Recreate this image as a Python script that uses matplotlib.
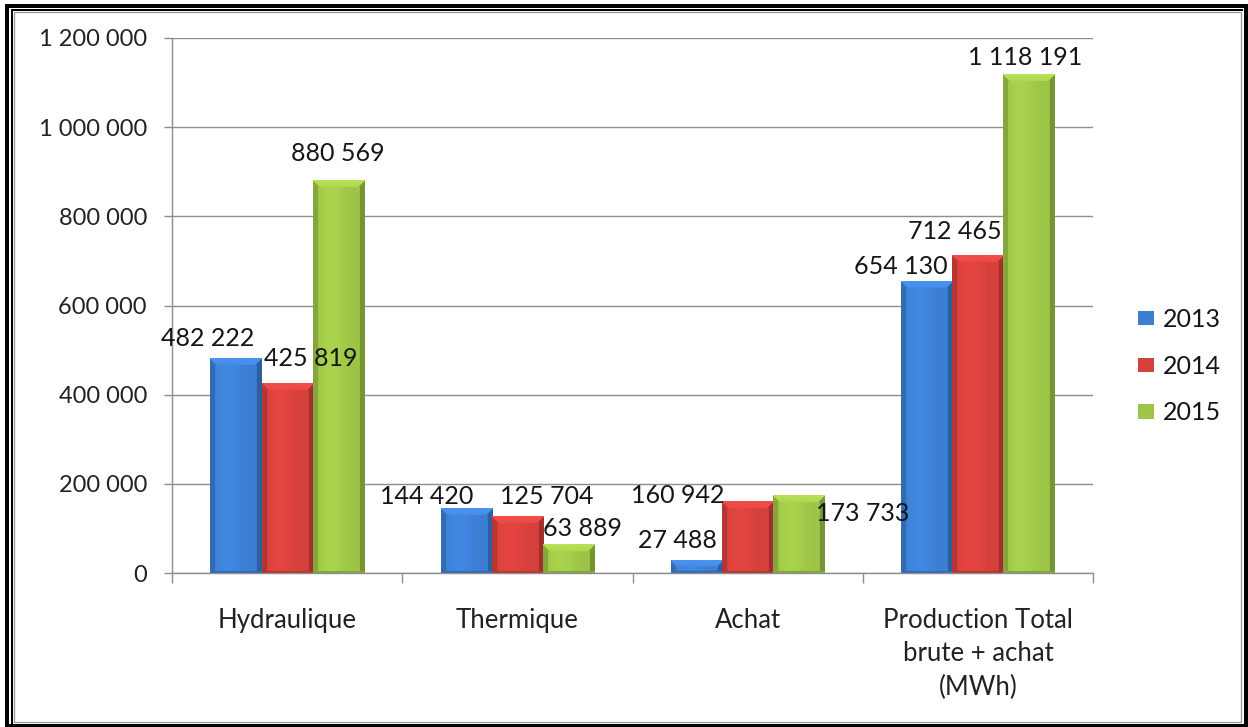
import numpy as np
import matplotlib
matplotlib.use("Agg")
import matplotlib.pyplot as plt
from matplotlib.patches import Rectangle
from matplotlib.lines import Line2D
from matplotlib.colors import to_rgb

# ---------------- data ----------------
categories = ["Hydraulique", "Thermique", "Achat", "Production Total\nbrute + achat\n(MWh)"]
series_names = ["2013", "2014", "2015"]
values_2013 = [482222, 144420, 27488, 654130]
values_2014 = [425819, 125704, 160942, 712465]
values_2015 = [880569, 63889, 173733, 1118191]
y_ticks = [0, 200000, 400000, 600000, 800000, 1000000, 1200000]

series_values = [values_2013, values_2014, values_2015]

# ---------------- style ----------------
FONT = "Lato"
colors = ["#3C7ED2", "#D4403C", "#9DC447"]
# label offsets (pixels): dx, dy relative to bar top centre
label_offsets = [
    [(-28, 20), (-40, 12), (-19, 20), (-26, 15)],
    [(24, 25), (29, 20), (-70, 6), (-23, 24)],
    [(0, 27), (14, 16), (64, -18), (-4, 17)],
]

W, H = 1248, 727
DPI = 100
fig = plt.figure(figsize=(W / DPI, H / DPI), dpi=DPI)
fig.patch.set_facecolor("white")

ax_left, ax_right, ax_bottom, ax_top = 172, 1093, 573, 38
ax = fig.add_axes([ax_left / W, 1 - ax_bottom / H, (ax_right - ax_left) / W, (ax_bottom - ax_top) / H])

px = 72.0 / DPI  # points per pixel

x = np.arange(len(categories))
bw = 0.222
offsets = [-bw, 0, bw]

ax.set_xlim(-0.5, len(categories) - 0.5)
ax.set_ylim(0, 1200000)

grid_col = "#8E8E8E"
ax.set_yticks(y_ticks)
ax.yaxis.grid(True, color=grid_col, lw=1.0, zorder=0)
ax.set_axisbelow(True)
ax.set_yticklabels([f"{v:,}".replace(",", " ") for v in y_ticks], fontsize=17, family=FONT, color="#222222")
ax.tick_params(axis="y", length=6, width=1, color=grid_col, pad=12)

ax.set_xticks(x)
ax.set_xticklabels(categories, fontsize=18.5, family=FONT, color="#222222", linespacing=1.42, va="top")
ax.tick_params(axis="x", which="major", length=0, pad=25)
ax.set_xticks(np.arange(len(categories) + 1) - 0.5, minor=True)
ax.tick_params(axis="x", which="minor", length=7, width=1, color=grid_col)

for s in ["top", "right"]:
    ax.spines[s].set_visible(False)
for s in ["left", "bottom"]:
    ax.spines[s].set_color(grid_col)
    ax.spines[s].set_linewidth(1.0)

bars_all = []
for i, (name, vals, col) in enumerate(zip(series_names, series_values, colors)):
    bars = ax.bar(x + offsets[i], vals, width=bw, color=col, label=name, zorder=2, linewidth=0)
    bars_all.append(bars)

fig.canvas.draw()

def shade_image(col, wpx, hpx):
    base = np.array(to_rgb(col))
    wpx = max(int(round(wpx)), 2)
    hpx = max(int(round(hpx)), 2)
    u = (np.arange(wpx) + 0.5) / wpx
    # horizontal profile
    prof = 1.0 + 0.08 * np.exp(-((u - 0.35) / 0.25) ** 2)
    edge = 5.0 / wpx
    prof = np.where(u < edge, 0.85, prof)
    prof = np.where(u > 1 - edge, 0.76, prof)
    img = np.ones((hpx, wpx, 3)) * base[None, None, :] * prof[None, :, None]
    # top bevel
    bev = min(7, hpx // 2)
    for r in range(bev):
        lo = r
        hi = wpx - r
        t = r / max(bev, 1)
        img[r, lo:hi, :] = np.clip(base * (1.13 - 0.06 * t) + 0.02, 0, 1)
        img[r, :lo, :] = base * 0.88
        img[r, hi:, :] = base * 0.78
    # bottom darker line
    img[-2:, :, :] = base * 0.85
    return np.clip(img, 0, 1)

for bars in bars_all:
    for b in bars:
        x0, y0 = b.get_x(), b.get_y()
        bwid, bh = b.get_width(), b.get_height()
        p0 = ax.transData.transform((x0, y0))
        p1 = ax.transData.transform((x0 + bwid, y0 + bh))
        img = shade_image(b.get_facecolor(), p1[0] - p0[0], p1[1] - p0[1])
        ax.imshow(img, extent=(x0, x0 + bwid, y0, y0 + bh), aspect="auto",
                  interpolation="bilinear", zorder=2.5, origin="upper")

ax.set_xlim(-0.5, len(categories) - 0.5)
ax.set_ylim(0, 1200000)

# value labels
for i, bars in enumerate(bars_all):
    for j, b in enumerate(bars):
        v = series_values[i][j]
        dx, dy = label_offsets[i][j]
        ax.annotate(f"{v:,}".replace(",", " "),
                    xy=(b.get_x() + b.get_width() / 2, b.get_height()),
                    xytext=(dx * px, dy * px), textcoords="offset points",
                    ha="center", va="center", fontsize=18, family=FONT,
                    color="#151515", zorder=5)

# legend
handles = [Rectangle((0, 0), 1, 1, facecolor=c, edgecolor="none") for c in colors]
leg = fig.legend(handles, series_names, loc="center left",
                 bbox_to_anchor=(1128 / W, 1 - 366 / H), frameon=False,
                 prop={"family": FONT, "size": 18}, handlelength=0.65, handleheight=0.5,
                 handletextpad=0.35, labelspacing=0.95, borderaxespad=0)
for t in leg.get_texts():
    t.set_color("#151515")

# frame (double border)
def fx(p):
    return p / W

def fy(p):
    return 1 - p / H

fig.patches.append(Rectangle((fx(7), fy(725.5)), fx(1245.5) - fx(7), fy(5.5) - fy(725.5),
                             transform=fig.transFigure, fill=False, edgecolor="black",
                             linewidth=4 * px, zorder=10))
fig.lines.append(Line2D([fx(11.8), fx(11.8)], [fy(9.5), fy(723)], transform=fig.transFigure,
                        color="black", lw=2 * px, zorder=10))
fig.lines.append(Line2D([fx(11.8), fx(1242)], [fy(9.8), fy(9.8)], transform=fig.transFigure,
                        color="black", lw=2 * px, zorder=10))
fig.patches.append(Rectangle((fx(13.5), fy(722)), fx(1241) - fx(13.5), fy(11.5) - fy(722),
                             transform=fig.transFigure, fill=False, edgecolor="#9A9A9A",
                             linewidth=1.3 * px, zorder=10))

fig.savefig("out.png", dpi=DPI)
